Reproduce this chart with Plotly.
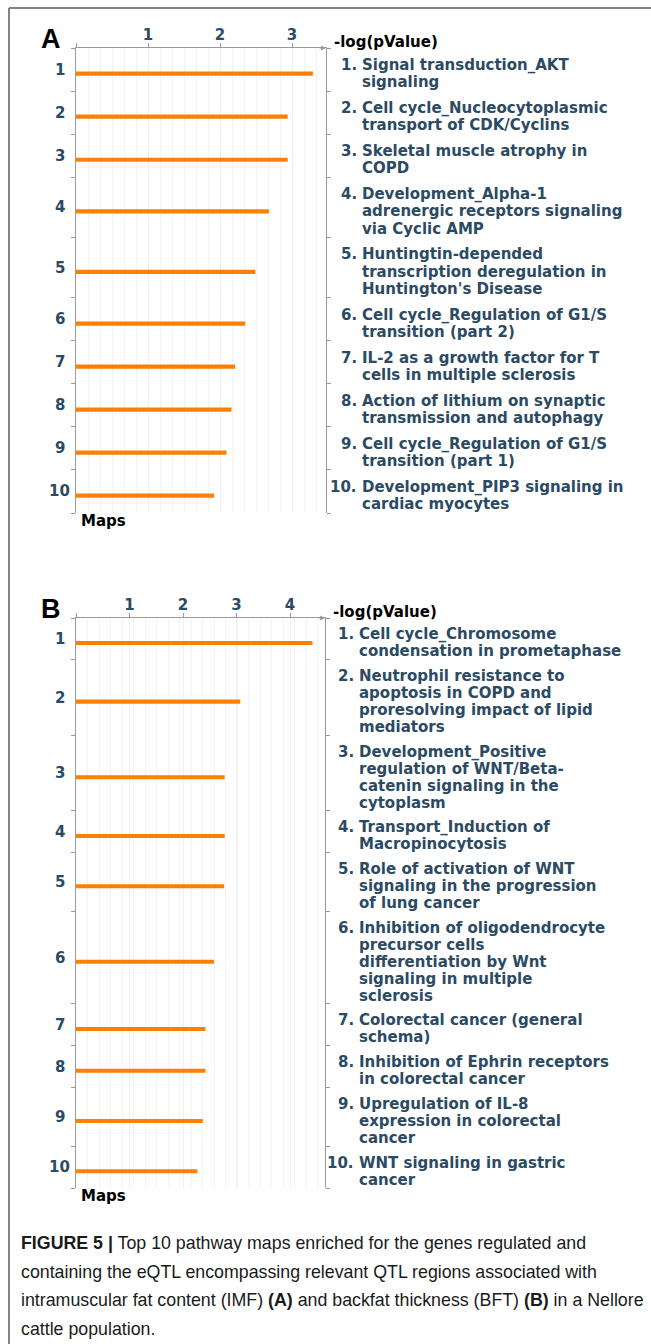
import plotly.graph_objects as go

# ---- data -----------------------------------------------------------------
maps_a = [
    "Signal transduction_AKT\nsignaling",
    "Cell cycle_Nucleocytoplasmic\ntransport of CDK/Cyclins",
    "Skeletal muscle atrophy in\nCOPD",
    "Development_Alpha-1\nadrenergic receptors signaling\nvia Cyclic AMP",
    "Huntingtin-depended\ntranscription deregulation in\nHuntington's Disease",
    "Cell cycle_Regulation of G1/S\ntransition (part 2)",
    "IL-2 as a growth factor for T\ncells in multiple sclerosis",
    "Action of lithium on synaptic\ntransmission and autophagy",
    "Cell cycle_Regulation of G1/S\ntransition (part 1)",
    "Development_PIP3 signaling in\ncardiac myocytes",
]
neglogp_a = [3.29, 2.94, 2.94, 2.68, 2.49, 2.35, 2.21, 2.16, 2.09, 1.92]

maps_b = [
    "Cell cycle_Chromosome\ncondensation in prometaphase",
    "Neutrophil resistance to\napoptosis in COPD and\nproresolving impact of lipid\nmediators",
    "Development_Positive\nregulation of WNT/Beta-\ncatenin signaling in the\ncytoplasm",
    "Transport_Induction of\nMacropinocytosis",
    "Role of activation of WNT\nsignaling in the progression\nof lung cancer",
    "Inhibition of oligodendrocyte\nprecursor cells\ndifferentiation by Wnt\nsignaling in multiple\nsclerosis",
    "Colorectal cancer (general\nschema)",
    "Inhibition of Ephrin receptors\nin colorectal cancer",
    "Upregulation of IL-8\nexpression in colorectal\ncancer",
    "WNT signaling in gastric\ncancer",
]
neglogp_b = [4.42, 3.07, 2.78, 2.78, 2.77, 2.58, 2.42, 2.42, 2.37, 2.27]

x_ticks_a = [1, 2, 3]
x_ticks_b = [1, 2, 3, 4]

caption_lines = [
    "<b>FIGURE 5 |</b> Top 10 pathway maps enriched for the genes regulated and",
    "containing the eQTL encompassing relevant QTL regions associated with",
    "intramuscular fat content (IMF) <b>(A)</b> and backfat thickness (BFT) <b>(B)</b> in a Nellore",
    "cattle population.",
]

# ---- style ----------------------------------------------------------------
W, H = 651, 1344
BAR_COLOR = "#fb8003"
TEXT_BLUE = "#2b4a63"
AXIS_GRAY = "#9a9a9a"
LABEL_FONT = "DejaVu Sans"
GAP = 0.47          # extra space per row, in text-line units
BAR_SHIFT = 0.24    # bars sit slightly below the row centre
BAR_W = 0.24


def fx(p):
    return p / W


def fy(p):
    return 1 - p / H


# panel geometry in pixels: left, right, top, bottom, x-range max
panels = [
    dict(key="", letter="A", names=maps_a, vals=neglogp_a, ticks=x_ticks_a,
         left=76, right=326, top=48, bottom=513, xmax=250 / 72,
         num_x=359, text_x=360, grid=1 / 6),
    dict(key="2", letter="B", names=maps_b, vals=neglogp_b, ticks=x_ticks_b,
         left=76, right=325, top=618, bottom=1188, xmax=249 / 53.5,
         num_x=356, text_x=357, grid=0.215),
]

fig = go.Figure()
annotations = []
layout = dict(
    width=W, height=H,
    margin=dict(l=0, r=0, t=0, b=0),
    paper_bgcolor="white", plot_bgcolor="white",
    showlegend=False,
)

for p in panels:
    k = p["key"]
    xr, yr = "x" + k, "y" + k
    lines = [s.split("\n") for s in p["names"]]
    heights = [len(l) + GAP for l in lines]
    bounds = [0.0]
    for h in heights:
        bounds.append(bounds[-1] + h)
    centers = [(bounds[i] + bounds[i + 1]) / 2 for i in range(len(heights))]
    bar_y = [c + BAR_SHIFT for c in centers]
    total = bounds[-1]

    fig.add_trace(go.Bar(
        x=p["vals"], y=bar_y, orientation="h", width=BAR_W,
        marker=dict(color=BAR_COLOR, line=dict(width=0)),
        xaxis=xr, yaxis=yr, hoverinfo="skip",
    ))

    layout["xaxis" + k] = dict(
        domain=[fx(p["left"]), fx(p["right"])],
        range=[0, p["xmax"]], side="top", anchor=yr,
        tickmode="array", tickvals=[0] + p["ticks"],
        ticktext=[""] + [str(t) for t in p["ticks"]],
        ticks="outside", ticklen=4, tickcolor=AXIS_GRAY, tickwidth=1,
        tickfont=dict(family=LABEL_FONT, size=15, color=TEXT_BLUE, weight="bold"),
        ticklabelstandoff=-3,
        showline=True, linecolor=AXIS_GRAY, linewidth=1.2,
        showgrid=True, gridcolor="#efefef", gridwidth=1,
        minor=dict(dtick=p["grid"], tick0=0, showgrid=True,
                   gridcolor="#f3f3f3", gridwidth=1),
        zeroline=False, fixedrange=True,
    )
    layout["yaxis" + k] = dict(
        domain=[fy(p["bottom"]), fy(p["top"])],
        range=[total, 0], anchor=xr,
        tickmode="array", tickvals=bounds, ticktext=[""] * len(bounds),
        ticks="outside", ticklen=4, tickcolor=AXIS_GRAY, tickwidth=1,
        showline=True, linecolor=AXIS_GRAY, linewidth=1.2, mirror="ticks",
        showgrid=False, zeroline=False, fixedrange=True,
    )

    # row numbers on the left
    for i, c in enumerate(centers):
        annotations.append(dict(
            x=fx(59.5), xref="paper", y=c, yref=yr,
            text=str(i + 1), showarrow=False, xanchor="center", yanchor="middle",
            font=dict(family=LABEL_FONT, size=15, color=TEXT_BLUE, weight="bold"),
        ))

    # pathway names on the right, one annotation per text line
    for i, (yb, ls) in enumerate(zip(bar_y, lines)):
        n = len(ls)
        annotations.append(dict(
            x=fx(p["num_x"]), xref="paper", y=yb - (n - 1) / 2, yref=yr,
            text=f"{i + 1}.", showarrow=False, xanchor="right", yanchor="middle",
            font=dict(family=LABEL_FONT, size=15, color=TEXT_BLUE, weight="bold"),
        ))
        for j, t in enumerate(ls):
            annotations.append(dict(
                x=fx(p["text_x"]), xref="paper", y=yb - (n - 1) / 2 + j, yref=yr,
                text=t, showarrow=False, xanchor="left", yanchor="middle",
                font=dict(family=LABEL_FONT, size=15, color=TEXT_BLUE, weight="bold"),
            ))

    # axis titles
    annotations.append(dict(
        x=fx(p["right"] + 6), xref="paper", y=fy(p["top"] - 6), yref="paper",
        text="-log(pValue)", showarrow=False, xanchor="left", yanchor="middle",
        font=dict(family=LABEL_FONT, size=15, color="black", weight="bold"),
    ))
    annotations.append(dict(
        x=fx(p["left"] + 3), xref="paper", y=fy(p["bottom"] + 8), yref="paper",
        text="Maps", showarrow=False, xanchor="left", yanchor="middle",
        font=dict(family=LABEL_FONT, size=15, color="black", weight="bold"),
    ))
    # arrow heads at the end of the axes
    annotations.append(dict(
        x=p["xmax"], xref=xr, y=0, yref=yr, ax=-8, ay=0, text="",
        showarrow=True, arrowhead=2, arrowsize=0.8, arrowwidth=1.2,
        arrowcolor=AXIS_GRAY,
    ))
    # panel letter
    annotations.append(dict(
        x=fx(51), xref="paper", y=fy(p["top"] - 9), yref="paper",
        text=p["letter"], showarrow=False, xanchor="center", yanchor="middle",
        font=dict(family="Liberation Sans", size=27, color="black", weight="bold"),
    ))

# caption
for i, line in enumerate(caption_lines):
    annotations.append(dict(
        x=fx(19), xref="paper", y=fy(1243 + i * 28.7), yref="paper",
        text=line, showarrow=False, xanchor="left", yanchor="middle",
        font=dict(family="Liberation Sans", size=17.8, color="#1a1a1a"),
    ))

layout["annotations"] = annotations
layout["shapes"] = [
    dict(type="line", xref="paper", yref="paper",
         x0=fx(9), x1=1.01, y0=fy(8), y1=fy(8),
         line=dict(color="#5a5a5a", width=1.5)),
    dict(type="line", xref="paper", yref="paper",
         x0=fx(9), x1=fx(9), y0=fy(8), y1=-0.01,
         line=dict(color="#5a5a5a", width=1.5)),
]

fig.update_layout(**layout)
fig.write_html("out.html")
